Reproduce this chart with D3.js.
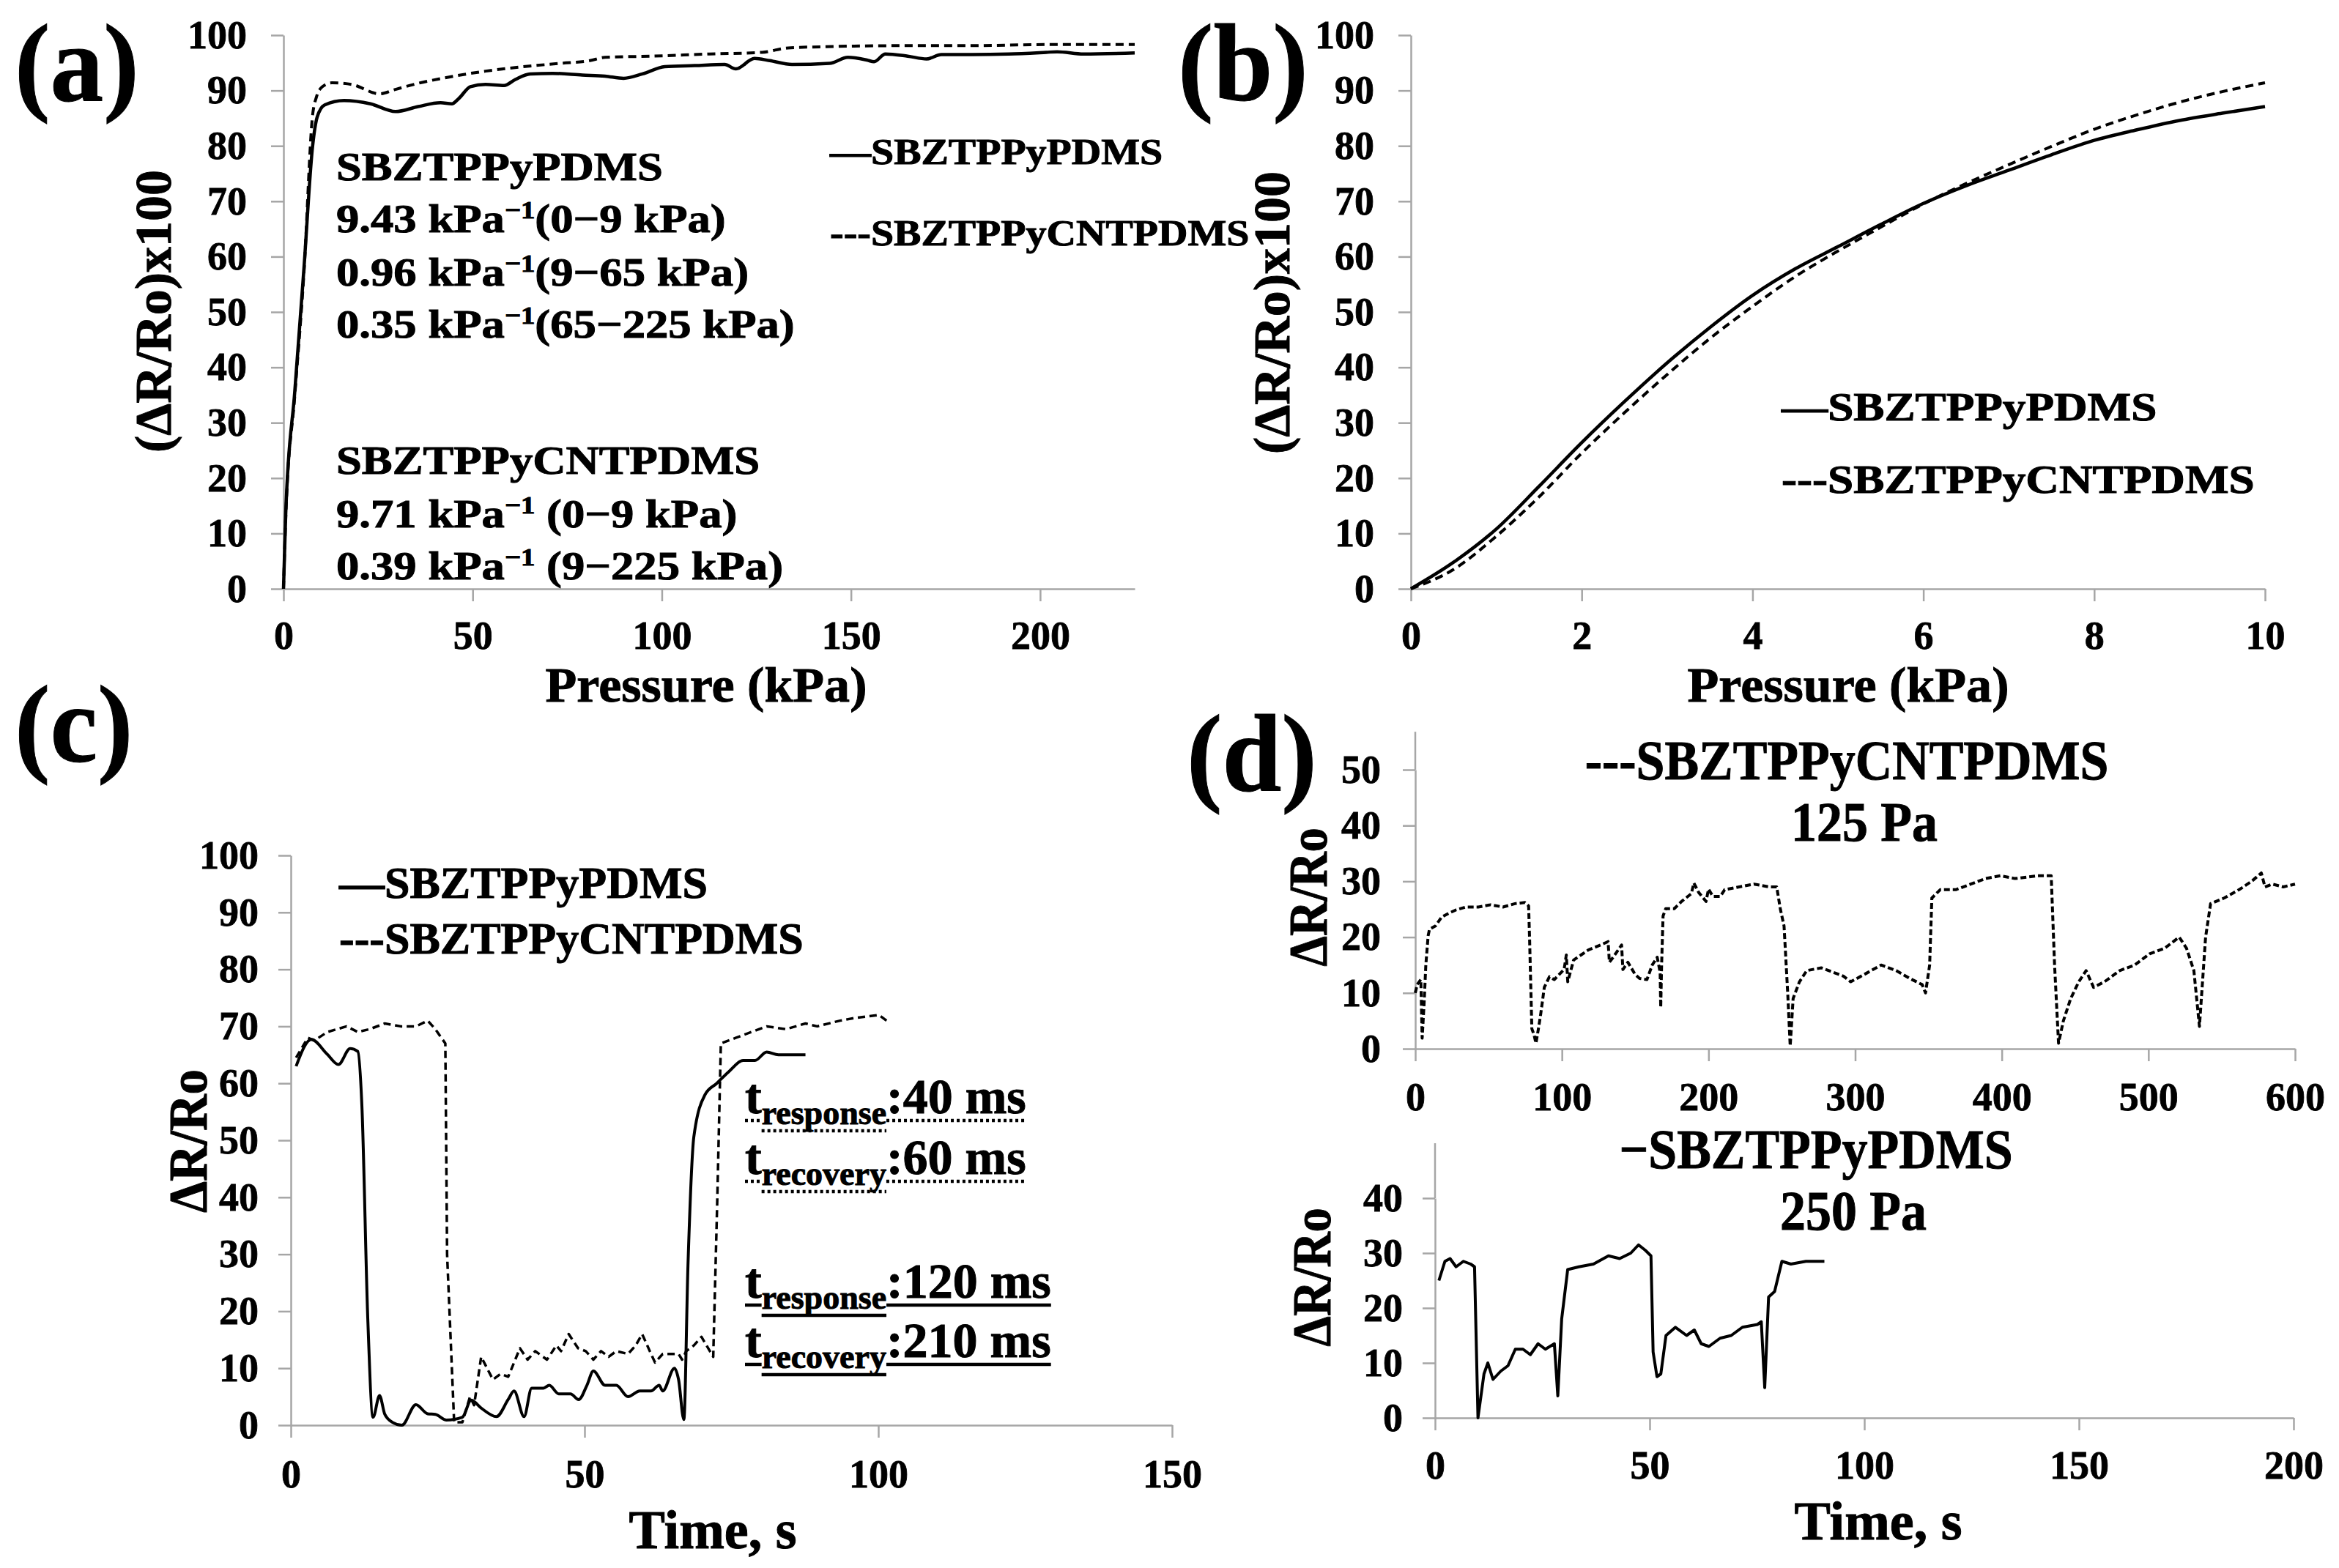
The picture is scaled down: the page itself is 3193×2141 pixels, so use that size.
<!DOCTYPE html>
<html>
<head>
<meta charset="utf-8">
<script src="https://cdn.jsdelivr.net/npm/d3@7"></script>
<style>
  body { margin: 0; background: #fff; }
  svg { display: block; }
</style>
</head>
<body>
<svg id="fig" width="3193" height="2141" viewBox="0 0 3193 2141"></svg>
<script>
// ---- data ----
// (a) response over 0-225 kPa
var aSolidP = [0, 0.6, 3, 5.4, 7.7, 8.9, 10.9, 16, 23, 29.6, 35.6, 41.5, 44.5, 46.4, 49.4, 53.4, 58.3, 61.3, 65.2, 71.1, 79, 85, 89.9, 94.9, 100.8, 108.7, 116.6, 119.6, 124.5, 128.5, 134.4, 144.3, 149.2, 154.2, 156.1, 159.1, 165, 170, 173.9, 181.8, 191.7, 201.6, 204.5, 211.5, 225];
var aSolidV = [0, 13.8, 35.8, 57.8, 80, 85.2, 87.4, 88.2, 87.6, 86.2, 87.1, 87.8, 87.6, 88.6, 90.7, 91.1, 90.9, 92, 93, 93.1, 92.8, 92.6, 92.2, 93, 94.3, 94.5, 94.7, 93.9, 95.8, 95.4, 94.7, 94.9, 96, 95.5, 95.2, 96.6, 96.2, 95.7, 96.5, 96.5, 96.6, 96.9, 97, 96.6, 96.8];
var aDashedP = [0, 0.6, 3, 5.4, 7.7, 8.7, 10.3, 12.8, 18, 25.4, 29.6, 35.6, 43.5, 53.4, 63.2, 73.1, 81, 85, 96.8, 112.6, 126.5, 133.4, 142.3, 162, 181.8, 201.6, 225];
var aDashedV = [0, 13, 35, 57, 85.6, 88.8, 90.7, 91.4, 91.1, 89.4, 90.2, 91.3, 92.4, 93.5, 94.3, 94.9, 95.4, 96, 96.2, 96.6, 96.9, 97.7, 97.9, 98.1, 98.1, 98.3, 98.3];

// (b) low pressure region 0-10 kPa
var bPressure = [0, 0.5, 1, 1.5, 2, 2.5, 3, 3.5, 4, 4.5, 5, 5.5, 6, 6.5, 7, 7.5, 8, 8.5, 9, 9.5, 10];
var bSolid = [0, 4.8, 10.8, 18.5, 26.4, 33.8, 40.8, 47.2, 53, 57.8, 61.8, 65.8, 69.6, 72.8, 75.6, 78.4, 81, 82.9, 84.6, 85.9, 87.1];
var bDashed = [0, 3.5, 9.5, 16.6, 24.5, 31.8, 38.7, 45.2, 51, 56.4, 61, 65.3, 69.5, 73.2, 76.6, 79.9, 83, 85.6, 87.9, 89.8, 91.4];

// (c) one loading cycle
var cSolidT = [0.9, 3.5, 6.2, 8.1, 10.1, 11.4, 12.1, 13.1, 14, 15.1, 16, 17.3, 18.9, 21.3, 23.3, 24.6, 26.5, 29.2, 30.7, 32.4, 35, 37, 38, 39.7, 41, 43, 44, 45.6, 47.6, 49, 50.4, 51.5, 53.5, 55.4, 57.4, 59.4, 61.3, 62.7, 63.3, 65.3, 66, 66.9, 67.6, 68.6, 70.5, 72.5, 74.5, 77, 79, 81, 83, 85, 87.6];
var cSolidV = [63, 67.7, 65.1, 63.3, 66.1, 65.6, 56, 18.7, 1.4, 5.2, 1.9, 0.5, 0, 3.6, 2, 1.9, 0.9, 1.4, 4.4, 3, 1.5, 4.5, 6, 1.5, 6.5, 6.5, 7, 5.5, 5.5, 4.5, 7, 9.5, 7, 7, 5, 6, 6, 7, 6, 10, 8, 1, 28, 50.6, 58, 60, 62, 64, 64, 65.5, 65, 65, 65];
var cDashedT = [0.9, 2.9, 4, 6.2, 9.5, 11.4, 13.4, 16, 18.7, 21.3, 23.3, 24.6, 26.3, 26.6, 27.8, 29.2, 30.5, 31.2, 32.4, 34.4, 35.7, 37, 39, 40.3, 41.6, 43.6, 45.2, 46, 47.3, 48.9, 50.2, 51.5, 52.8, 54.1, 55.4, 57.4, 58.7, 59.8, 61.1, 62, 63.3, 66, 66.6, 67.3, 68.6, 69.9, 71.9, 72.6, 73.2, 75.8, 78.4, 81, 84.3, 87.6, 89.6, 93.5, 96.2, 100.1, 101.4];
var cDashedV = [64.5, 68, 67.5, 69, 70, 69, 69.5, 70.5, 70, 70, 71, 69.5, 67, 30, 0.5, 0.5, 5, 3.5, 12, 8, 9, 8.5, 13.5, 11.5, 13, 11.5, 14, 13, 16, 13.5, 13, 11.5, 13, 12, 13, 12.5, 14, 16, 13, 11, 12.5, 12.5, 11.5, 13, 14, 15.5, 12, 40, 67, 68, 69, 70, 69.5, 70.5, 70, 71, 71.5, 72, 71];

// (d) repeated cycles
var dTopT = [0, 1.3, 3.8, 4.7, 6, 7.2, 8.8, 9.7, 13.8, 18, 23, 28, 34.7, 43, 51.4, 59.8, 68, 74.8, 77.3, 78, 79.5, 81, 82.3, 84, 85.6, 88, 91.5, 94.8, 101.5, 103, 104, 108, 113, 118, 126.5, 131.5, 132.4, 135, 140.7, 141.6, 145, 150, 153, 158, 161.6, 165, 167, 167.4, 168, 169, 170.8, 176.6, 181.6, 188.3, 190, 193.3, 198.3, 200, 203, 208,
  211, 221, 231, 241.5, 246.5, 249, 251.5, 254, 255.7, 257.7, 262, 267, 277, 292, 297, 307.5, 317.7, 328, 338, 345.7, 348, 350.8, 352.3, 358, 368.6, 378.8, 389, 399, 409, 424.5, 433.7, 436, 438.7, 442, 447, 452.5, 457.5, 462.6, 470, 480.4, 490.6, 500.8, 511, 521, 526, 531, 534.8, 539, 542.4, 551.6, 561.8, 570.4, 577, 579.5, 584.6, 592, 600];
var dTopV = [10, 11.5, 12.4, 1.9, 8, 15, 20.3, 21.4, 22, 23.6, 24.3, 24.9, 25.4, 25.4, 25.8, 25.4, 26, 26.2, 25.6, 19.4, 3.6, 2.5, 1, 3.6, 6.3, 11, 12.9, 12.4, 14.2, 16.8, 12, 15.9, 16.8, 17.7, 18.6, 19.2, 15.5, 16.4, 18.6, 14.2, 15.5, 13.3, 12.6, 12.4, 15, 16.4, 13.7, 7.4, 15, 23.8, 25.1, 25.1, 26.4, 27.8, 29.7, 28, 26.4, 28.6, 27.3, 27.3,
  28.5, 29, 29.5, 29, 29, 25, 22, 10, 0.5, 9, 12, 14, 14.5, 13, 12, 13.5, 15, 14, 12.5, 11.5, 10, 15, 27, 28.5, 28.5, 29.5, 30.5, 31, 30.5, 31, 31, 15, 1, 5, 9, 12, 14, 11, 12, 14, 15, 17, 18, 20, 18, 14, 4, 20, 26, 27, 28.5, 30, 31.5, 29, 29.5, 29, 29.5];
var dBotT = [0.9, 2.3, 3.5, 4.9, 6.6, 8.3, 9.2, 10, 11.4, 12.3, 13.5, 15.3, 17, 18.7, 20.5, 22.2, 24, 25.7, 27.8, 28.6, 29.5, 30.9, 33.5, 36.9, 40.4, 43, 45.6, 47.4, 49, 50.3, 50.8, 51.7, 52.6, 53.8, 56, 58.6, 60.4, 62, 63.8, 66.4, 69, 71.6, 75.1, 76, 76.8, 77.7, 79.1, 80.8, 82.9, 86.4, 90.7];
var dBotV = [25, 28.5, 29, 27.5, 28.5, 28, 27.5, 0, 8, 10, 7, 8.5, 9.5, 12.5, 12.5, 11.5, 13.5, 12.5, 13.5, 4, 18, 27, 27.5, 28, 29.5, 29, 30, 31.5, 30.5, 29.5, 12, 7.5, 8, 15, 16.5, 15, 16, 13.5, 13, 14.5, 15, 16.5, 17, 17.5, 5.5, 22, 23, 28.5, 28, 28.5, 28.5];

// tick values
var ticks0to100 = [0, 10, 20, 30, 40, 50, 60, 70, 80, 90, 100];
var aXTicks = [0, 50, 100, 150, 200];
var bXTicks = [0, 2, 4, 6, 8, 10];
var cXTicks = [0, 50, 100, 150];
var dTopXTicks = [0, 100, 200, 300, 400, 500, 600];
var dTopYTicks = [0, 10, 20, 30, 40, 50];
var dBotXTicks = [0, 50, 100, 150, 200];
var dBotYTicks = [0, 10, 20, 30, 40];

var FONT = "'Liberation Serif','Times New Roman',serif";
var AXIS = "#a6a6a6";

var svg = d3.select("#fig");
svg.append("rect").attr("width", 3193).attr("height", 2141).attr("fill", "#fff");

//Bold serif text, optionally squeezed horizontally and rotated
function txt(x, y, str, size, sx, anchor, rot) {
  return svg.append("text")
    .attr("transform", "translate(" + x + "," + y + ")" + (rot ? " rotate(" + rot + ")" : "") + " scale(" + (sx || 1) + ",1)")
    .attr("text-anchor", anchor || "start")
    .style("font-family", FONT)
    .style("font-weight", "bold")
    .style("font-size", size + "px")
    .attr("fill", "#000")
    .attr("stroke", "#000")
    .attr("stroke-width", 1)
    .text(str);
}

//Builds the two axes of one panel and returns its scales
function axes(o) {
  var x = d3.scaleLinear().domain(o.xDomain).range([o.x0, o.x1]);
  var y = d3.scaleLinear().domain(o.yDomain).range([o.y0, o.y1]);

  var gx = svg.append("g")
    .attr("transform", "translate(0," + o.y0 + ")")
    .call(d3.axisBottom(x).tickValues(o.xTicks).tickSize(17).tickSizeOuter(0).tickFormat(d3.format("d")));
  gx.selectAll("text").attr("y", o.xLabelY - o.y0).attr("dy", 0);

  var gy = svg.append("g")
    .attr("transform", "translate(" + o.x0 + ",0)")
    .call(d3.axisLeft(y).tickValues(o.yTicks).tickSize(17).tickPadding(o.yGap - 17).tickSizeOuter(0).tickFormat(d3.format("d")));

  [gx, gy].forEach(function (g) {
    g.attr("font-size", null).attr("font-family", null);
    g.select(".domain").attr("stroke", AXIS).attr("stroke-width", 2.5);
    g.selectAll(".tick line").attr("stroke", AXIS).attr("stroke-width", 2.5);
    g.selectAll("text")
      .attr("fill", "#000")
      .attr("stroke", "#000")
      .attr("stroke-width", 0.8)
      .style("font-family", FONT)
      .style("font-weight", "bold")
      .style("font-size", "54px");
  });
  return { x: x, y: y };
}

function series(s, xs, ys, dash, width, curve) {
  var line = d3.line()
    .x(function (d) { return s.x(d[0]); })
    .y(function (d) { return s.y(d[1]); })
    .curve(curve || d3.curveLinear);
  svg.append("path")
    .datum(d3.zip(xs, ys))
    .attr("d", line)
    .attr("fill", "none")
    .attr("stroke", "#000")
    .attr("stroke-width", width)
    .attr("stroke-linejoin", "round")
    .attr("stroke-dasharray", dash);
}

// ---- panel letters ----
txt(20, 137, "(a)", 150, 0.97);
txt(1608, 137, "(b)", 150, 0.97);
txt(20, 1040, "(c)", 150, 0.97);
txt(1620, 1080, "(d)", 150, 0.97);

// ---- (a) ----
var sa = axes({ x0: 387, x1: 1549, y0: 804, y1: 48, xDomain: [0, 225], yDomain: [0, 100],
  xTicks: aXTicks, yTicks: ticks0to100, yGap: 50, xLabelY: 886 });
series(sa, aSolidP, aSolidV, null, 4.5, d3.curveMonotoneX);
series(sa, aDashedP, aDashedV, "11,7", 4, d3.curveMonotoneX);
txt(964, 958, "Pressure (kPa)", 68, 1.03, "middle");
txt(233, 425, "(ΔR/Ro)x100", 70, 1, "middle", -90);
txt(1133, 224, "—SBZTPPyPDMS", 50, 1.12);
txt(1133, 335, "---SBZTPPyCNTPDMS", 50, 1.12);

//Sensitivity lines with a superscript -1
function sens(y, head, tail) {
  var t = txt(459, y, "", 55, 1.14);
  t.append("tspan").text(head + " kPa");
  t.append("tspan").style("font-size", "34px").attr("dy", -19).text("−1");
  t.append("tspan").attr("dy", 19).text(tail);
}
txt(459, 246, "SBZTPPyPDMS", 55, 1.14);
sens(317, "9.43", "(0−9 kPa)");
sens(390, "0.96", "(9−65 kPa)");
sens(461, "0.35", "(65−225 kPa)");
txt(459, 647, "SBZTPPyCNTPDMS", 55, 1.14);
sens(720, "9.71", " (0−9 kPa)");
sens(791, "0.39", " (9−225 kPa)");

// ---- (b) ----
var sb = axes({ x0: 1926, x1: 3092, y0: 804, y1: 48, xDomain: [0, 10], yDomain: [0, 100],
  xTicks: bXTicks, yTicks: ticks0to100, yGap: 50, xLabelY: 886 });
series(sb, bPressure, bSolid, null, 4.5, d3.curveMonotoneX);
series(sb, bPressure, bDashed, "11,7", 4, d3.curveMonotoneX);
txt(2523, 958, "Pressure (kPa)", 68, 1.03, "middle");
txt(1760, 427, "(ΔR/Ro)x100", 70, 1, "middle", -90);
txt(2432, 574, "—SBZTPPyPDMS", 54, 1.17);
txt(2432, 673, "---SBZTPPyCNTPDMS", 54, 1.17);

// ---- (c) ----
var sc = axes({ x0: 397, x1: 1600, y0: 1946, y1: 1168, xDomain: [0, 150], yDomain: [0, 100],
  xTicks: cXTicks, yTicks: ticks0to100, yGap: 44, xLabelY: 2031 });
series(sc, cSolidT, cSolidV, null, 4, d3.curveMonotoneX);
series(sc, cDashedT, cDashedV, "10,6", 3.5);
txt(973, 2114, "Time, s", 74, 1, "middle");
txt(282, 1558, "ΔR/Ro", 74, 0.93, "middle", -90);
txt(463, 1226, "—SBZTPPyPDMS", 62);
txt(463, 1302, "---SBZTPPyCNTPDMS", 62);

//Response / recovery times with subscript and underline
function timing(y, sub, val, dotted) {
  var x0 = 1017;
  var t = txt(0, y, "", 68);
  t.attr("transform", null).attr("x", x0).attr("y", y);
  var a = t.append("tspan").text("t");
  var b = t.append("tspan").style("font-size", "46px").attr("dy", 15).text(sub);
  var c = t.append("tspan").attr("dy", -15).text(":" + val + " ms");
  var w1 = a.node().getComputedTextLength();
  var w2 = b.node().getComputedTextLength();
  var w3 = c.node().getComputedTextLength();
  var segs = [[x0, x0 + w1, y + 10], [x0 + w1, x0 + w1 + w2, y + 24], [x0 + w1 + w2, x0 + w1 + w2 + w3, y + 10]];
  segs.forEach(function (s) {
    svg.append("line")
      .attr("x1", s[0]).attr("x2", s[1]).attr("y1", s[2]).attr("y2", s[2])
      .attr("stroke", "#000").attr("stroke-width", 4.5)
      .attr("stroke-dasharray", dotted ? "4,4" : null);
  });
}
timing(1520, "response", "40", true);
timing(1603, "recovery", "60", true);
timing(1772, "response", "120", false);
timing(1853, "recovery", "210", false);

// ---- (d) top ----
var sdt = axes({ x0: 1932, x1: 3133, y0: 1432, y1: 1051, xDomain: [0, 600], yDomain: [0, 50],
  xTicks: dTopXTicks, yTicks: dTopYTicks, yGap: 47, xLabelY: 1516 });
//axis line continues a little above the 50 tick
svg.append("line").attr("x1", 1932).attr("x2", 1932).attr("y1", sdt.y(50)).attr("y2", sdt.y(56.8))
  .attr("stroke", AXIS).attr("stroke-width", 2.5);
series(sdt, dTopT, dTopV, "8,4", 4);
txt(2521, 1064, "---SBZTPPyCNTPDMS", 76, 0.92, "middle");
txt(2545, 1148, "125 Pa", 76, 0.92, "middle");
txt(1811, 1225, "ΔR/Ro", 74, 0.9, "middle", -90);

// ---- (d) bottom ----
var sdb = axes({ x0: 1959, x1: 3131, y0: 1936, y1: 1636, xDomain: [0, 200], yDomain: [0, 40],
  xTicks: dBotXTicks, yTicks: dBotYTicks, yGap: 44, xLabelY: 2019 });
svg.append("line").attr("x1", 1959).attr("x2", 1959).attr("y1", sdb.y(40)).attr("y2", sdb.y(50))
  .attr("stroke", AXIS).attr("stroke-width", 2.5);
series(sdb, dBotT, dBotV, null, 4);
txt(2479, 1595, "−SBZTPPyPDMS", 76, 0.92, "middle");
txt(2530, 1679, "250 Pa", 76, 0.92, "middle");
txt(1816, 1744, "ΔR/Ro", 74, 0.9, "middle", -90);
txt(2564, 2102, "Time, s", 74, 1, "middle");
</script>
</body>
</html>
